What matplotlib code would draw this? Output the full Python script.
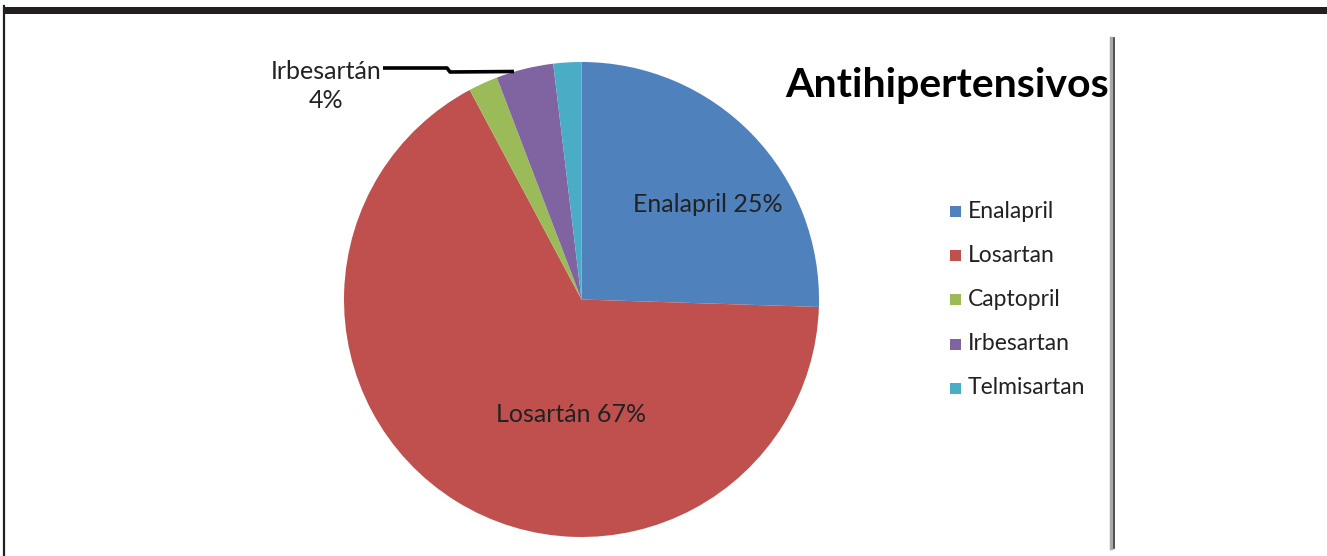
import matplotlib
matplotlib.use("Agg")
import matplotlib.pyplot as plt
from matplotlib.patches import Rectangle

# Data
categories = ["Enalapril", "Losartan", "Captopril", "Irbesartan", "Telmisartan"]
values = [25.5, 66.7, 2.0, 3.9, 1.9]
colors = ["#4F81BD", "#C0504D", "#9BBB59", "#8064A2", "#4BACC6"]
title = "Antihipertensivos"
label_enalapril = "Enalapril 25%"
label_losartan = "Losartán 67%"
label_irbesartan = "Irbesartán\n4%"

W, H = 1327, 556
plt.rcParams['font.family'] = ['Lato', 'DejaVu Sans']
fig = plt.figure(figsize=(W / 100, H / 100), dpi=100)
ax = fig.add_axes([0, 0, 1, 1])

def Y(y):
    return H - y

cx, cy, r = 581.5, 299.5, 237.5
wedges, _ = ax.pie(values, colors=colors, startangle=90, counterclock=False,
                   center=(cx, Y(cy)), radius=r,
                   wedgeprops=dict(linewidth=0, antialiased=True))
ax.set_xlim(0, W)
ax.set_ylim(0, H)
ax.set_aspect('auto')
ax.axis('off')

# frame decorations
ax.add_patch(Rectangle((3, Y(13.5)), W, 6.5, color="#231f20", lw=0))
ax.plot([3.8, 3.8], [0, Y(6)], color="#231f20", lw=1.6)
ax.plot([1110.5, 1110.5], [Y(38), Y(548)], color="#aaaaaa", lw=2.5)
ax.plot([1114.2, 1114.2], [Y(38), Y(548)], color="#333333", lw=1.2)

# data labels
ax.text(707.5, Y(205), label_enalapril, fontsize=18, ha='center', va='center', color='#222222')
ax.text(571, Y(415), label_losartan, fontsize=18, ha='center', va='center', color='#222222')
ax.text(326, Y(86), label_irbesartan, fontsize=18, ha='center', va='center',
        color='#222222', linespacing=1.3)
ax.plot([383, 447, 450, 514], [Y(68), Y(68), Y(72), Y(71.5)], color='black', lw=2.6,
        solid_capstyle='butt')

# title
ax.text(947, Y(86), title, fontsize=29.5, fontweight='bold', ha='center', va='center',
        color='black')

# legend
leg_y = [211, 255, 299, 344, 388]
for name, col, yy in zip(categories, colors, leg_y):
    ax.add_patch(Rectangle((950, Y(yy) - 5.5), 11, 11, color=col, lw=0))
    ax.text(968, Y(yy), name, fontsize=16.5, ha='left', va='center', color='#222222')

fig.savefig("out.png", dpi=100)
